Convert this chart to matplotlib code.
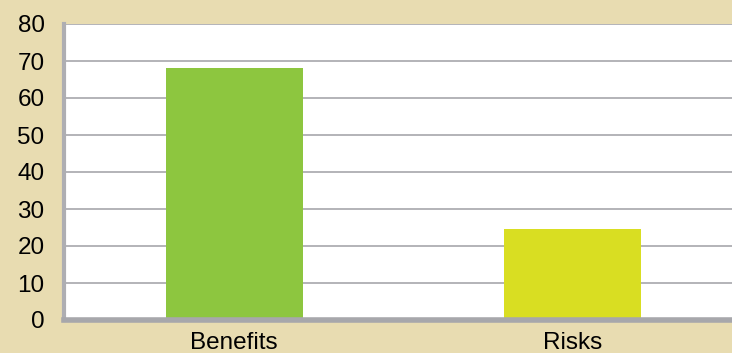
import matplotlib
matplotlib.use("Agg")
import matplotlib.pyplot as plt

categories = ["Benefits", "Risks"]
values = [68, 24.5]
bar_colors = ["#8DC63F", "#D9DE22"]
yticks = [0, 10, 20, 30, 40, 50, 60, 70, 80]

plt.rcParams['font.family'] = ['Liberation Sans', 'DejaVu Sans']

W, H = 732, 353
fig = plt.figure(figsize=(W / 100, H / 100), dpi=100)
fig.patch.set_facecolor("#E8DCB1")
ax = fig.add_axes([64 / W, (H - 320) / H, (W - 64) / W, 296 / H])
ax.set_facecolor("white")

x = list(range(len(categories)))
ax.bar(x, values, width=0.404, color=bar_colors, zorder=3)

ax.set_xlim(-0.503, 1.47)
ax.set_ylim(0, 80)
ax.set_yticks(yticks)
ax.set_xticks(x)
ax.set_xticklabels(categories)
ax.yaxis.grid(True, color="#AEAEB2", lw=1.3, zorder=1)
ax.tick_params(axis="both", length=0, labelsize=17.5)
ax.tick_params(axis="y", pad=14)
ax.tick_params(axis="x", pad=8.5)

for s in ["top", "right"]:
    ax.spines[s].set_visible(False)
ax.spines["left"].set_color("#AEAEB2")
ax.spines["left"].set_linewidth(3)
ax.spines["bottom"].set_color("#A7A7AB")
ax.spines["bottom"].set_linewidth(4)
ax.spines["bottom"].set_zorder(4)

fig.savefig("out.png", dpi=100, facecolor=fig.get_facecolor())
